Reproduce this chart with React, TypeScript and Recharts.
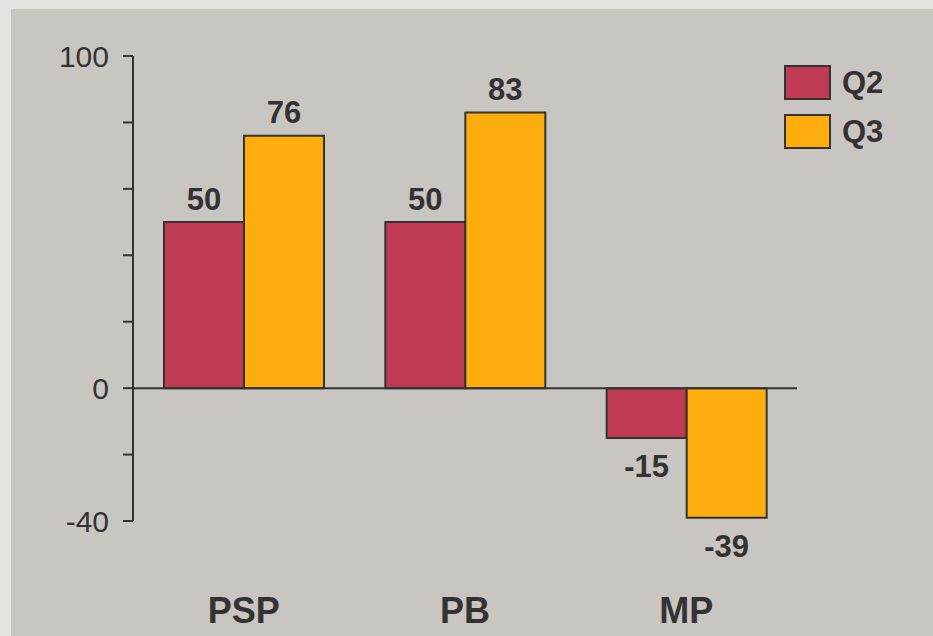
import React from "react";
import { BarChart, Bar, XAxis, YAxis, ReferenceLine, LabelList } from "recharts";

const categories = ["PSP", "PB", "MP"];
const q2Values = [50, 50, -15];
const q3Values = [76, 83, -39];
const yTicks = [-40, -20, 0, 20, 40, 60, 80, 100];
const shownTicks = [100, 0, -40];

const series = [
  { key: "Q2", values: q2Values, color: "#c03c54" },
  { key: "Q3", values: q3Values, color: "#ffae0d" },
];

const data = categories.map((name, i) => ({ name, Q2: q2Values[i], Q3: q3Values[i] }));

const FONT = "'Liberation Sans', Arial, sans-serif";
const INK = "#333333";

function ValueLabel(props: any) {
  const { x, y, width, height, value } = props;
  const cx = x + width / 2;
  const neg = value < 0;
  const ty = neg ? Math.max(y, y + height) + 29 : Math.min(y, y + height) - 23;
  return (
    <text x={cx} y={ty} textAnchor="middle" dominantBaseline="central" fontFamily={FONT} fontSize={31} fontWeight="bold" fill={INK}>
      {value}
    </text>
  );
}

function CategoryTick(props: any) {
  const { x, y, payload } = props;
  return (
    <text x={x} y={y + 81} textAnchor="middle" dominantBaseline="central" fontFamily={FONT} fontSize={36} fontWeight="bold" fill={INK}>
      {payload.value}
    </text>
  );
}

function LegendBox() {
  return (
    <div style={{ position: "absolute", left: 784, top: 65, fontFamily: FONT }}>
      {series.map((s) => (
        <div key={s.key} style={{ display: "flex", alignItems: "center", height: 35, marginBottom: 14 }}>
          <div style={{ width: 43, height: 31, background: s.color, border: `2px solid ${INK}` }} />
          <span style={{ marginLeft: 11, fontSize: 31, fontWeight: "bold", color: INK }}>{s.key}</span>
        </div>
      ))}
    </div>
  );
}

export default function App() {
  return (
    <div style={{ position: "absolute", left: 0, top: 0, width: 933, height: 636, background: "#e4e3df", overflow: "hidden" }}>
      <div style={{ position: "absolute", left: 11, top: 9, right: 0, bottom: 0, background: "#c9c6c2" }} />
      <div style={{ position: "absolute", left: 0, top: 0 }}>
        <BarChart width={933} height={636} data={data} margin={{ top: 56, right: 136, bottom: 0, left: 0 }} barGap={0} barSize={80}>
          <XAxis dataKey="name" axisLine={false} tickLine={false} height={115} tick={<CategoryTick />} interval={0} />
          <YAxis
            type="number"
            domain={[-40, 100]}
            ticks={yTicks}
            width={133}
            tickSize={10}
            tickMargin={14}
            axisLine={{ stroke: INK, strokeWidth: 2 }}
            tickLine={{ stroke: INK, strokeWidth: 2 }}
            tick={{ fill: INK, fontSize: 30, fontFamily: FONT }}
            tickFormatter={(v: number) => (shownTicks.includes(v) ? String(v) : "")}
          />
          <ReferenceLine y={0} stroke={INK} strokeWidth={2} />
          {series.map((s) => (
            <Bar key={s.key} dataKey={s.key} fill={s.color} stroke={INK} strokeWidth={2} isAnimationActive={false}>
              <LabelList dataKey={s.key} content={<ValueLabel />} />
            </Bar>
          ))}
        </BarChart>
      </div>
      <LegendBox />
    </div>
  );
}
